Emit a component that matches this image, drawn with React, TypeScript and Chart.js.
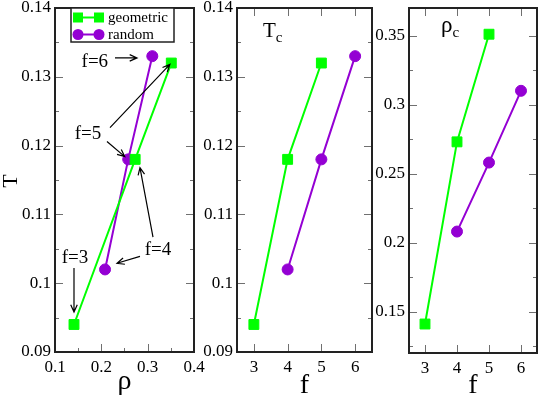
import React, { useEffect, useRef } from "react";
import { Chart, registerables } from "chart.js";

Chart.register(...registerables);

// ---------------- data ----------------
const seriesNames = ["geometric", "random"];
const fGeometric = [3, 4, 5];
const fRandom = [4, 5, 6];
const tcGeometric = [0.094, 0.118, 0.132];
const tcRandom = [0.102, 0.118, 0.133];
const rhoGeometric = [0.141, 0.273, 0.351];
const rhoRandom = [0.208, 0.258, 0.31];

// tick values
const rhoTicks = [0.1, 0.2, 0.3, 0.4];
const rhoMinorTicks = [0.15, 0.25, 0.35];
const tTicks = [0.09, 0.1, 0.11, 0.12, 0.13, 0.14];
const tMinorTicks = [0.095, 0.105, 0.115, 0.125, 0.135];
const fTicks = [3, 4, 5, 6];
const rhoCTicks = [0.15, 0.2, 0.25, 0.3, 0.35];
const rhoCMinorTicks = [0.125, 0.175, 0.225, 0.275, 0.325];

// annotations of the first panel (data coordinates: rho, T)
const annotationLabels = ["f=6", "f=5", "f=4", "f=3"];
const annotationAnchors = [
  [0.186, 0.1323],
  [0.171, 0.1219],
  [0.3223, 0.1049],
  [0.1432, 0.1038],
];
const annotationArrows = [
  [[[0.2295, 0.13275], [0.277, 0.13275]]],
  [
    [[0.2187, 0.1226], [0.348, 0.1318]],
    [[0.2122, 0.1206], [0.2505, 0.1184]],
  ],
  [
    [[0.3115, 0.1067], [0.2834, 0.1168]],
    [[0.2834, 0.1039], [0.2338, 0.1029]],
  ],
  [[[0.141, 0.1022], [0.141, 0.0958]]],
];

// ---------------- styles ----------------
const W = 545;
const H = 395;
const SERIF = '"Liberation Serif", "Times New Roman", serif';
const GREEN = "#00ff00";
const PURPLE = "#9400d3";
const FRAME = "#222222";
const TICK = "#707070";

type Area = { left: number; right: number; top: number; bottom: number };

interface PanelSpec {
  area: Area;
  xMin: number;
  xMax: number;
  yMin: number;
  yMax: number;
  xTicks: number[];
  xMinor: number[];
  yTicks: number[];
  yMinor: number[];
  geoX: number[];
  geoY: number[];
  randX: number[];
  randY: number[];
  xTitle: string;
  xTitleBaseline: number;
  yTitle?: string;
  innerLabel?: { main: string; sub: string; x: number; y: number; mainSize: number };
  legend?: boolean;
  annotations?: boolean;
}

const panels: PanelSpec[] = [
  {
    area: { left: 55, right: 194, top: 7, bottom: 352 },
    xMin: 0.1,
    xMax: 0.4,
    yMin: 0.09,
    yMax: 0.14,
    xTicks: rhoTicks,
    xMinor: rhoMinorTicks,
    yTicks: tTicks,
    yMinor: tMinorTicks,
    geoX: rhoGeometric,
    geoY: tcGeometric,
    randX: rhoRandom,
    randY: tcRandom,
    xTitle: "ρ",
    xTitleBaseline: 389,
    yTitle: "T",
    legend: true,
    annotations: true,
  },
  {
    area: { left: 237, right: 372, top: 7, bottom: 352 },
    xMin: 2.5,
    xMax: 6.5,
    yMin: 0.09,
    yMax: 0.14,
    xTicks: fTicks,
    xMinor: [],
    yTicks: tTicks,
    yMinor: tMinorTicks,
    geoX: fGeometric,
    geoY: tcGeometric,
    randX: fRandom,
    randY: tcRandom,
    xTitle: "f",
    xTitleBaseline: 393,
    innerLabel: { main: "T", sub: "c", x: 263, y: 37, mainSize: 21 },
  },
  {
    area: { left: 409, right: 543, top: 7, bottom: 353 },
    xMin: 2.5,
    xMax: 6.5,
    yMin: 0.12,
    yMax: 0.37,
    xTicks: fTicks,
    xMinor: [],
    yTicks: rhoCTicks,
    yMinor: rhoCMinorTicks,
    geoX: fGeometric,
    geoY: rhoGeometric,
    randX: fRandom,
    randY: rhoRandom,
    xTitle: "f",
    xTitleBaseline: 393,
    innerLabel: { main: "ρ", sub: "c", x: 441, y: 32, mainSize: 23 },
  },
];

function fmt(v: number): string {
  return String(parseFloat(Number(v).toFixed(4)));
}

function drawArrow(ctx: CanvasRenderingContext2D, x1: number, y1: number, x2: number, y2: number) {
  const ang = Math.atan2(y2 - y1, x2 - x1);
  const len = 8;
  const spread = 0.42;
  ctx.beginPath();
  ctx.moveTo(x1, y1);
  ctx.lineTo(x2, y2);
  ctx.moveTo(x2 - len * Math.cos(ang - spread), y2 - len * Math.sin(ang - spread));
  ctx.lineTo(x2, y2);
  ctx.lineTo(x2 - len * Math.cos(ang + spread), y2 - len * Math.sin(ang + spread));
  ctx.stroke();
}

function drawSymbol(ctx: CanvasRenderingContext2D, style: string, color: string, x: number, y: number) {
  ctx.fillStyle = color;
  if (style === "rect") {
    ctx.fillRect(x - 5, y - 5, 10, 10);
  } else {
    ctx.beginPath();
    ctx.arc(x, y, 5.5, 0, Math.PI * 2);
    ctx.fill();
  }
}

function makeDecor(spec: PanelSpec, idx: number) {
  return {
    id: "decor" + idx,
    beforeDatasetsDraw(chart: any) {
      const { ctx, chartArea: a, scales } = chart;
      const xs = scales.x;
      const ys = scales.y;
      ctx.save();
      ctx.strokeStyle = TICK;
      ctx.lineWidth = 1;
      ctx.beginPath();
      const xTick = (v: number, len: number) => {
        const p = Math.round(xs.getPixelForValue(v)) + 0.5;
        ctx.moveTo(p, a.bottom);
        ctx.lineTo(p, a.bottom - len);
        ctx.moveTo(p, a.top);
        ctx.lineTo(p, a.top + len);
      };
      const yTick = (v: number, len: number) => {
        const p = Math.round(ys.getPixelForValue(v)) + 0.5;
        ctx.moveTo(a.left, p);
        ctx.lineTo(a.left + len, p);
        ctx.moveTo(a.right, p);
        ctx.lineTo(a.right - len, p);
      };
      spec.xTicks.forEach((v) => xTick(v, 8));
      spec.xMinor.forEach((v) => xTick(v, 4));
      spec.yTicks.forEach((v) => yTick(v, 8));
      spec.yMinor.forEach((v) => yTick(v, 4));
      ctx.stroke();
      ctx.strokeStyle = FRAME;
      ctx.lineWidth = 2;
      ctx.strokeRect(a.left, a.top, a.right - a.left, a.bottom - a.top);
      ctx.restore();
    },
    afterDraw(chart: any) {
      const { ctx, chartArea: a, scales } = chart;
      const xs = scales.x;
      const ys = scales.y;
      ctx.save();
      ctx.fillStyle = "#000";
      // x title
      ctx.font = `28px ${SERIF}`;
      ctx.textAlign = "center";
      ctx.textBaseline = "alphabetic";
      ctx.fillText(spec.xTitle, (a.left + a.right) / 2, spec.xTitleBaseline);
      // y title
      if (spec.yTitle) {
        ctx.save();
        ctx.translate(17, 181);
        ctx.rotate(-Math.PI / 2);
        ctx.font = `22px ${SERIF}`;
        ctx.textAlign = "center";
        ctx.textBaseline = "alphabetic";
        ctx.fillText(spec.yTitle, 0, 0);
        ctx.restore();
      }
      // inner label with subscript
      if (spec.innerLabel) {
        const L = spec.innerLabel;
        ctx.textAlign = "left";
        ctx.textBaseline = "alphabetic";
        ctx.font = `${L.mainSize}px ${SERIF}`;
        ctx.fillText(L.main, L.x, L.y);
        const w = ctx.measureText(L.main).width;
        ctx.font = `15px ${SERIF}`;
        ctx.fillText(L.sub, L.x + w, L.y + 5);
      }
      // annotations
      if (spec.annotations) {
        ctx.font = `19px ${SERIF}`;
        ctx.textAlign = "center";
        ctx.textBaseline = "middle";
        ctx.strokeStyle = "#000";
        ctx.lineWidth = 1.2;
        annotationLabels.forEach((txt, i) => {
          const [ax, ay] = annotationAnchors[i];
          ctx.fillText(txt, xs.getPixelForValue(ax), ys.getPixelForValue(ay) + 1);
          annotationArrows[i].forEach(([p1, p2]) => {
            drawArrow(
              ctx,
              xs.getPixelForValue(p1[0]),
              ys.getPixelForValue(p1[1]),
              xs.getPixelForValue(p2[0]),
              ys.getPixelForValue(p2[1])
            );
          });
        });
      }
      // legend
      if (spec.legend) {
        const bx = 71;
        const by = 8;
        const bw = 103;
        const bh = 34;
        ctx.fillStyle = "#fff";
        ctx.fillRect(bx, by, bw, bh);
        ctx.strokeStyle = FRAME;
        ctx.lineWidth = 1.5;
        ctx.strokeRect(bx, by, bw, bh);
        chart.data.datasets.forEach((ds: any, i: number) => {
          const y = by + 9.5 + i * 17;
          ctx.strokeStyle = ds.borderColor;
          ctx.lineWidth = 2;
          ctx.beginPath();
          ctx.moveTo(77, y);
          ctx.lineTo(100, y);
          ctx.stroke();
          drawSymbol(ctx, ds.pointStyle, ds.backgroundColor, 78, y);
          drawSymbol(ctx, ds.pointStyle, ds.backgroundColor, 99, y);
          ctx.fillStyle = "#000";
          ctx.font = `15px ${SERIF}`;
          ctx.textAlign = "left";
          ctx.textBaseline = "middle";
          ctx.fillText(ds.label, 108, y + 0.5);
        });
      }
      ctx.restore();
    },
  };
}

function buildChart(canvas: HTMLCanvasElement, spec: PanelSpec, idx: number) {
  const a = spec.area;
  return new Chart(canvas, {
    type: "scatter",
    data: {
      datasets: [
        {
          label: seriesNames[0],
          data: spec.geoX.map((x, i) => ({ x, y: spec.geoY[i] })),
          showLine: true,
          borderColor: GREEN,
          backgroundColor: GREEN,
          borderWidth: 2,
          pointStyle: "rect",
          pointRadius: 7,
          pointBorderWidth: 1,
          pointBorderColor: GREEN,
          pointBackgroundColor: GREEN,
        },
        {
          label: seriesNames[1],
          data: spec.randX.map((x, i) => ({ x, y: spec.randY[i] })),
          showLine: true,
          borderColor: PURPLE,
          backgroundColor: PURPLE,
          borderWidth: 2,
          pointStyle: "circle",
          pointRadius: 5.5,
          pointBorderWidth: 1,
          pointBorderColor: PURPLE,
          pointBackgroundColor: PURPLE,
        },
      ],
    },
    options: {
      responsive: false,
      maintainAspectRatio: false,
      animation: false,
      devicePixelRatio: 1,
      events: [],
      layout: { padding: { left: 0, top: a.top, right: W - a.right, bottom: 0 } },
      plugins: { legend: { display: false }, tooltip: { enabled: false } },
      scales: {
        x: {
          type: "linear",
          min: spec.xMin,
          max: spec.xMax,
          grid: { display: false, drawTicks: false },
          border: { display: false },
          afterBuildTicks: (s: any) => {
            s.ticks = spec.xTicks.map((v) => ({ value: v }));
          },
          afterFit: (s: any) => {
            s.height = H - a.bottom;
            s.paddingLeft = 0;
            s.paddingRight = 0;
            s.paddingTop = 0;
            s.paddingBottom = 0;
          },
          ticks: {
            autoSkip: false,
            maxRotation: 0,
            padding: 5,
            color: "#000",
            font: { family: SERIF, size: 17 },
            callback: (v: any) => fmt(Number(v)),
          },
        },
        y: {
          type: "linear",
          min: spec.yMin,
          max: spec.yMax,
          grid: { display: false, drawTicks: false },
          border: { display: false },
          afterBuildTicks: (s: any) => {
            s.ticks = spec.yTicks.map((v) => ({ value: v }));
          },
          afterFit: (s: any) => {
            s.width = a.left;
            s.paddingLeft = 0;
            s.paddingRight = 0;
            s.paddingTop = 0;
            s.paddingBottom = 0;
          },
          ticks: {
            autoSkip: false,
            padding: 4,
            color: "#000",
            font: { family: SERIF, size: 17 },
            callback: (v: any) => fmt(Number(v)),
          },
        },
      },
    } as any,
    plugins: [makeDecor(spec, idx)],
  });
}

export default function App() {
  const r0 = useRef<HTMLCanvasElement>(null);
  const r1 = useRef<HTMLCanvasElement>(null);
  const r2 = useRef<HTMLCanvasElement>(null);

  useEffect(() => {
    const refs = [r0, r1, r2];
    const charts = refs.map((r, i) => buildChart(r.current as HTMLCanvasElement, panels[i], i));
    return () => charts.forEach((c) => c.destroy());
  }, []);

  const cstyle: React.CSSProperties = { position: "absolute", left: 0, top: 0, width: W, height: H };
  return (
    <div style={{ position: "absolute", left: 0, top: 0, width: W, height: H, background: "#fff" }}>
      <canvas ref={r0} width={W} height={H} style={cstyle} />
      <canvas ref={r1} width={W} height={H} style={cstyle} />
      <canvas ref={r2} width={W} height={H} style={cstyle} />
    </div>
  );
}
